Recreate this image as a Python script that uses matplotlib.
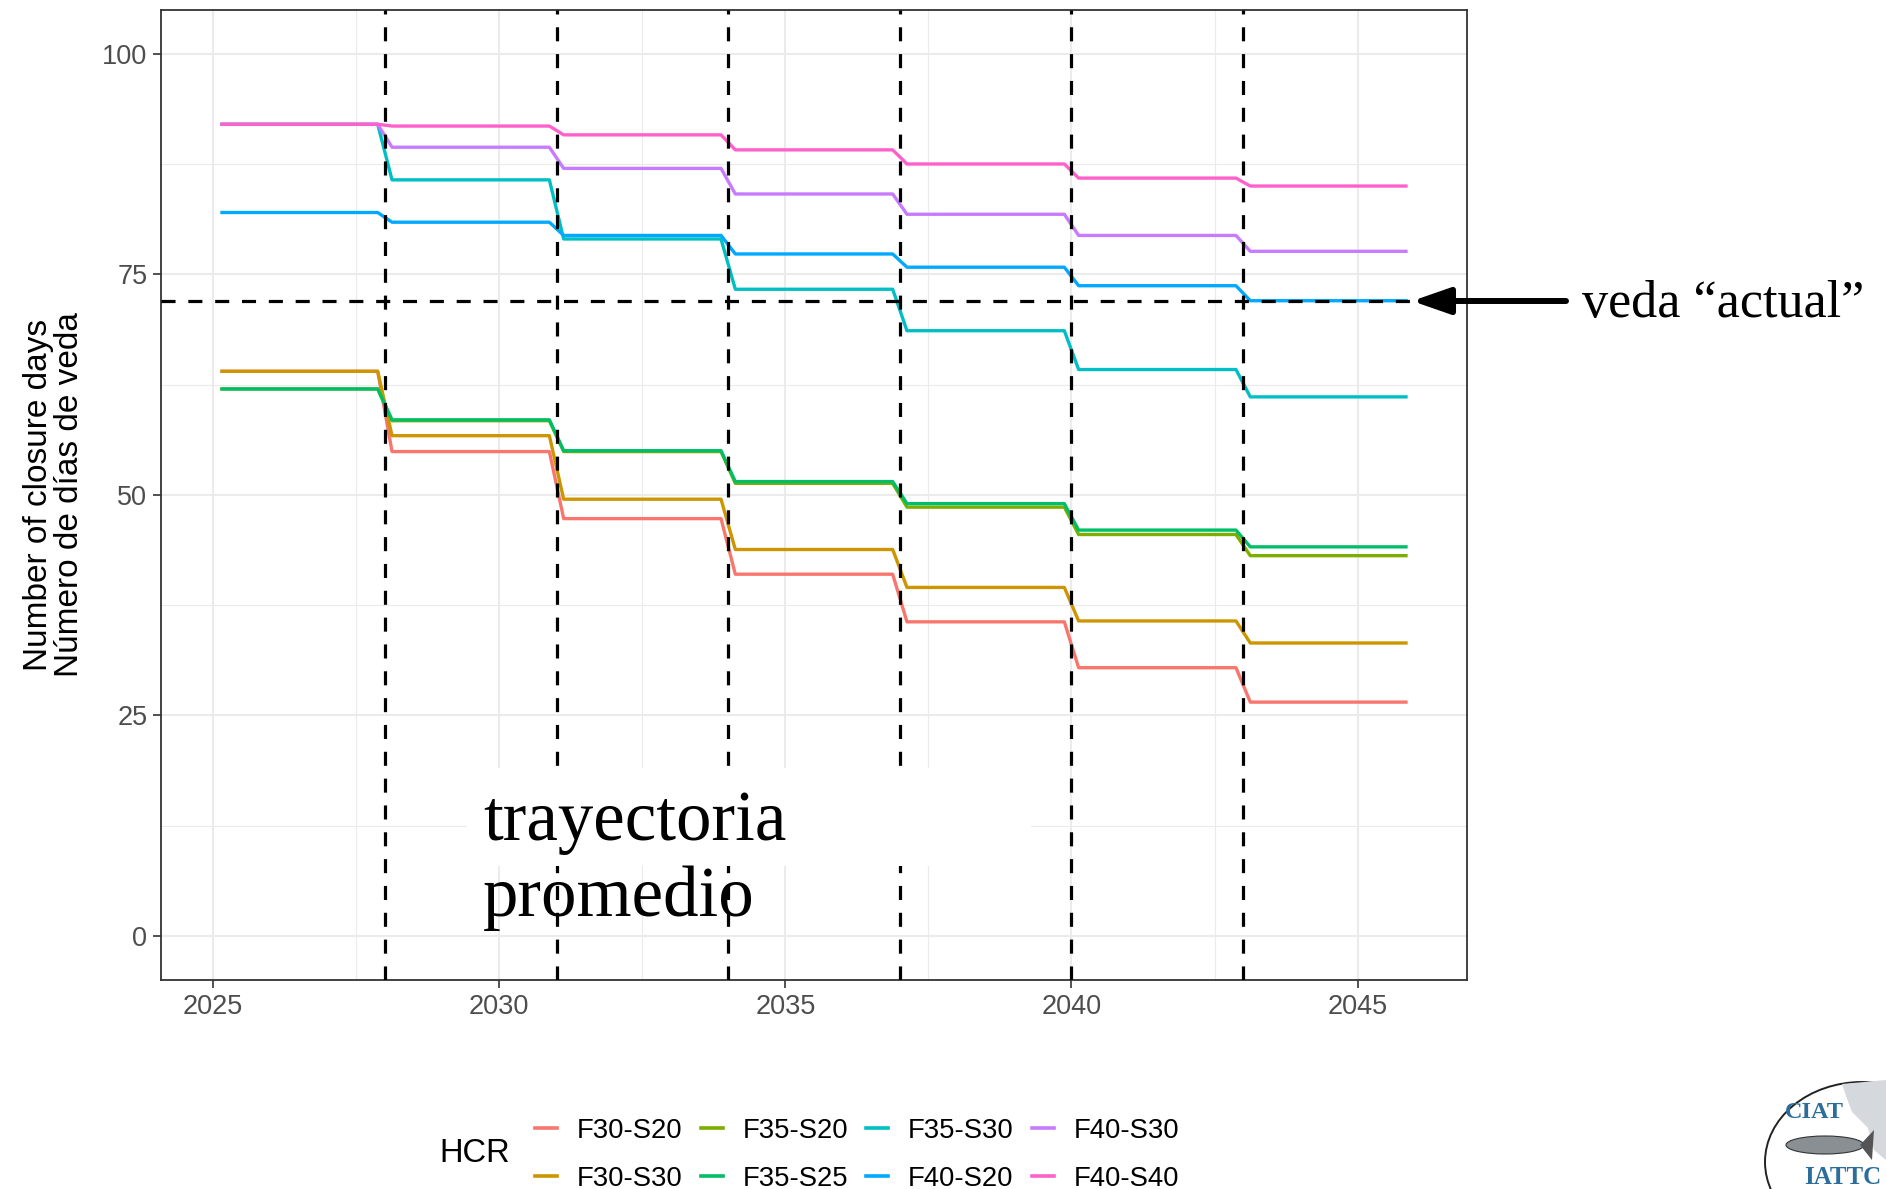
import numpy as np
import matplotlib
matplotlib.use("Agg")
import matplotlib.pyplot as plt
from matplotlib.lines import Line2D
from matplotlib.patches import Rectangle, Ellipse, FancyArrowPatch, Polygon

# ---------------- data ----------------
hcr_names = ["F30-S20", "F30-S30", "F35-S20", "F35-S25",
             "F35-S30", "F40-S20", "F40-S30", "F40-S40"]
hcr_colors = ["#F8766D", "#CD9600", "#7CAE00", "#00BE67",
              "#00BFC4", "#00A9FF", "#C77CFF", "#FF61CC"]
# closure-day level in each 3-year management period
# periods: 2025-28, 2028-31, 2031-34, 2034-37, 2037-40, 2040-43, 2043-46
lev_F30_S20 = [64.0, 54.9, 47.3, 41.0, 35.6, 30.4, 26.5]
lev_F30_S30 = [64.0, 56.7, 49.5, 43.8, 39.5, 35.7, 33.2]
lev_F35_S20 = [62.0, 58.4, 54.9, 51.3, 48.6, 45.5, 43.1]
lev_F35_S25 = [62.0, 58.5, 55.0, 51.5, 49.0, 46.0, 44.1]
lev_F35_S30 = [92.0, 85.7, 79.0, 73.3, 68.6, 64.2, 61.1]
lev_F40_S20 = [82.0, 80.9, 79.4, 77.3, 75.8, 73.7, 72.0]
lev_F40_S30 = [92.0, 89.4, 87.0, 84.1, 81.8, 79.4, 77.6]
lev_F40_S40 = [92.0, 91.8, 90.8, 89.1, 87.5, 85.9, 85.0]
levels = [lev_F30_S20, lev_F30_S30, lev_F35_S20, lev_F35_S25,
          lev_F35_S30, lev_F40_S20, lev_F40_S30, lev_F40_S40]
review_years = [2028, 2031, 2034, 2037, 2040, 2043]
t_start, t_end, half_q = 2025.125, 2045.875, 0.125   # quarterly mid-points
current_closure = 72
y_ticks = [0, 25, 50, 75, 100]
x_ticks = [2025, 2030, 2035, 2040, 2045]

# ---------------- figure ----------------
W, H = 1886, 1189
fig = plt.figure(figsize=(W / 100, H / 100), dpi=100)
fig.patch.set_facecolor("white")
L, R, T, B = 161, 1467, 9.6, 980
ax = fig.add_axes([L / W, 1 - B / H, (R - L) / W, (B - T) / H])

def fx(px):
    return px / W

def fy(py):
    return 1 - py / H

# step trajectories
for name, col, lev in zip(hcr_names, hcr_colors, levels):
    xs = [t_start]
    ys = [lev[0]]
    for i, b in enumerate(review_years):
        xs += [b - half_q, b + half_q]
        ys += [lev[i], lev[i + 1]]
    xs.append(t_end)
    ys.append(lev[-1])
    ax.plot(xs, ys, color=col, lw=2.4, zorder=3, solid_capstyle="butt")

for b in review_years:
    ax.axvline(b, color="black", lw=2.3, dashes=(4.4, 4.0), zorder=4)
ax.axhline(current_closure, color="black", lw=2.3, dashes=(4.4, 4.0), zorder=4)

ax.set_xlim(2024.0875, 2046.9125)
ax.set_ylim(-5, 105)
ax.set_xticks(x_ticks)
ax.set_yticks(y_ticks)
ax.set_xticks([2027.5, 2032.5, 2037.5, 2042.5], minor=True)
ax.set_yticks([12.5, 37.5, 62.5, 87.5], minor=True)
ax.set_xticklabels([str(v) for v in x_ticks])
ax.set_yticklabels([str(v) for v in y_ticks])
ax.grid(which="major", color="#EBEBEB", lw=1.5, zorder=0)
ax.grid(which="minor", color="#EBEBEB", lw=0.8, zorder=0)
ax.set_axisbelow(True)
ax.tick_params(which="minor", length=0)
ax.tick_params(which="major", length=5.8, width=1.2, color="#333333",
               labelcolor="#4D4D4D", labelsize=19.5, pad=4)
for lab in ax.get_xticklabels() + ax.get_yticklabels():
    lab.set_family("Liberation Sans")
for sp in ax.spines.values():
    sp.set_color("#333333")
    sp.set_linewidth(1.3)

# y label (two lines)
fig.text(fx(54), fy(495), "Number of closure days\nNúmero de días de veda",
         rotation=90, ha="center", va="center", multialignment="center",
         fontsize=24, family="Liberation Sans", color="black", linespacing=1.0)

# white box behind "trayectoria promedio"
ax.add_patch(Rectangle((2029.43, 7.9), 9.87, 11.1, facecolor="white",
                       edgecolor="none", zorder=5))
ax.text(2029.72, 10.87, "trayectoria", fontsize=51, family="Liberation Serif",
        color="black", ha="left", va="baseline", zorder=6)
ax.text(2029.72, 2.3, "promedio", fontsize=51, family="Liberation Serif",
        color="black", ha="left", va="baseline", zorder=6)

# arrow + annotation "veda actual"
arr = FancyArrowPatch((fx(1566), fy(301)), (fx(1412), fy(301)),
                      transform=fig.transFigure,
                      arrowstyle="-|>,head_length=23,head_width=8",
                      mutation_scale=1, lw=4.3, color="black",
                      shrinkA=0, shrinkB=0, zorder=10)
fig.add_artist(arr)
fig.text(fx(1582), fy(317), "veda \u201cactual\u201d", fontsize=37.5,
         family="Liberation Serif", color="black", ha="left", va="baseline")

# legend
handles = [Line2D([], [], color=c, lw=2.6) for c in hcr_colors]
leg = fig.legend(handles, hcr_names, ncol=4, loc="center left",
                 bbox_to_anchor=(fx(535), fy(1155)),
                 bbox_transform=fig.transFigure, frameon=False,
                 prop={"family": "Liberation Sans", "size": 19.8},
                 handlelength=0.8, handletextpad=0.72, columnspacing=0.66,
                 labelspacing=0.8, borderpad=0, borderaxespad=0)
fig.text(fx(439), fy(1153), "HCR", fontsize=23.5, family="Liberation Sans",
         ha="left", va="center", color="black")

# simple CIAT / IATTC logo
fig.add_artist(Ellipse((fx(1862), fy(1162)), 194 / W, 160 / H,
                       transform=fig.transFigure, facecolor="white",
                       edgecolor="#222222", lw=1.4))
fig.add_artist(Polygon([(fx(1842), fy(1084)), (fx(1886), fy(1080)),
                        (fx(1886), fy(1160)), (fx(1874), fy(1150)),
                        (fx(1868), fy(1128)), (fx(1852), fy(1112)),
                        (fx(1846), fy(1096))],
                       closed=True, transform=fig.transFigure,
                       facecolor="#D5D9DD", edgecolor="none"))
fig.add_artist(Ellipse((fx(1825), fy(1145)), 78 / W, 18 / H,
                       transform=fig.transFigure, facecolor="#8A8F94",
                       edgecolor="#333333", lw=0.8))
fig.add_artist(Polygon([(fx(1860), fy(1145)), (fx(1874), fy(1130)),
                        (fx(1872), fy(1160))], closed=True,
                       transform=fig.transFigure, facecolor="#555555",
                       edgecolor="none"))
fig.text(fx(1785), fy(1113), "CIAT", fontsize=17.5, family="Liberation Serif",
         weight="bold", color="#2B6E9B", ha="left", va="center")
fig.text(fx(1804), fy(1178), "IATTC", fontsize=18, family="Liberation Serif",
         weight="bold", color="#2B6E9B", ha="left", va="center")

fig.savefig("out.png", dpi=100)
